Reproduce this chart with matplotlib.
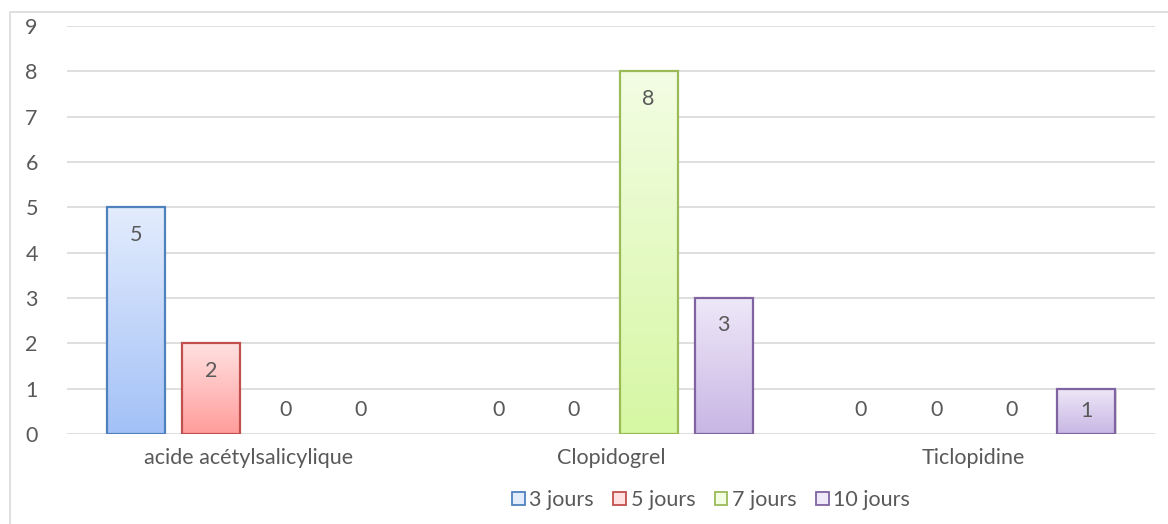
import numpy as np
import matplotlib.pyplot as plt
from matplotlib.patches import Rectangle
from matplotlib.colors import LinearSegmentedColormap

plt.rcParams['font.family'] = ['Lato', 'DejaVu Sans']

categories = ['acide acétylsalicylique', 'Clopidogrel', 'Ticlopidine']
series = ['3 jours', '5 jours', '7 jours', '10 jours']
values = [
    [5, 0, 0],   # 3 jours
    [2, 0, 0],   # 5 jours
    [0, 8, 0],   # 7 jours
    [0, 3, 1],   # 10 jours
]
y_ticks = list(range(0, 10))

# (haut, bas, bordure)
palette = [
    ('#e3ecfd', '#a3c1f7', '#4f81bd'),
    ('#ffe1e1', '#ff9d9b', '#c0504d'),
    ('#f3fde4', '#d6f7a3', '#9bbb59'),
    ('#eee8f8', '#c8b6e4', '#8064a2'),
]
text_col = '#595959'
fs = 15.5

fig = plt.figure(figsize=(11.68, 5.24), dpi=100)
W, H = 1168, 524

# cadre gris du graphique
fig.patches.append(Rectangle((10 / W, -0.1), 1.2, 1 - 12 / H + 0.1,
                             transform=fig.transFigure, fill=False,
                             edgecolor='#d9d9d9', lw=1.2, zorder=0))

ax = fig.add_axes([67 / W, 90 / H, (1155 - 67) / W, (498 - 90) / H])
ax.set_xlim(0, len(categories))
ax.set_ylim(0, 9)
for s in ax.spines.values():
    s.set_visible(False)
ax.set_yticks(y_ticks)
ax.yaxis.grid(True, color='#d9d9d9', lw=1.2)
ax.set_axisbelow(True)
ax.tick_params(axis='both', length=0, labelsize=fs, colors=text_col)
ax.tick_params(axis='y', pad=21)
ax.tick_params(axis='x', pad=10)
ax.set_xticks([i + 0.5 for i in range(len(categories))])
ax.set_xticklabels(categories)

bw = 0.16
step = 0.207
for si, (name, vals) in enumerate(zip(series, values)):
    top, bot, edge = palette[si]
    cmap = LinearSegmentedColormap.from_list(name, [bot, top])
    grad = np.linspace(0, 1, 256).reshape(-1, 1)
    for ci, v in enumerate(vals):
        x = ci + 0.5 + (si - 1.5) * step
        if v > 0:
            # ombre légère
            ax.add_patch(Rectangle((x - bw / 2 + 0.004, -0.04), bw, v,
                                   facecolor='#bfbfbf', edgecolor='none',
                                   alpha=0.6, zorder=2))
            im = ax.imshow(grad, cmap=cmap, aspect='auto', origin='lower',
                           extent=(x - bw / 2, x + bw / 2, 0, v), zorder=3)
            rect = Rectangle((x - bw / 2, 0), bw, v, facecolor='none',
                             edgecolor=edge, lw=1.6, zorder=4)
            ax.add_patch(rect)
            im.set_clip_path(rect)
            ax.text(x, v - min(0.6, v / 2), str(v), ha='center', va='center',
                    fontsize=fs, color=text_col, zorder=5)
        else:
            ax.text(x, 0.52, str(v), ha='center', va='center',
                    fontsize=fs, color=text_col, zorder=5)

ax.set_xlim(0, len(categories))
ax.set_ylim(0, 9)

# légende
handles = [Rectangle((0, 0), 1, 1, facecolor=p[0], edgecolor=p[2], lw=1.3)
           for p in palette]
fig.legend(handles, series, loc='center', bbox_to_anchor=(711 / W, 1 - 500 / H),
           ncol=4, frameon=False, fontsize=fs, labelcolor=text_col,
           handlelength=0.6, handleheight=0.6, handletextpad=0.2,
           columnspacing=0.9)

fig.savefig('out.png', dpi=100)
